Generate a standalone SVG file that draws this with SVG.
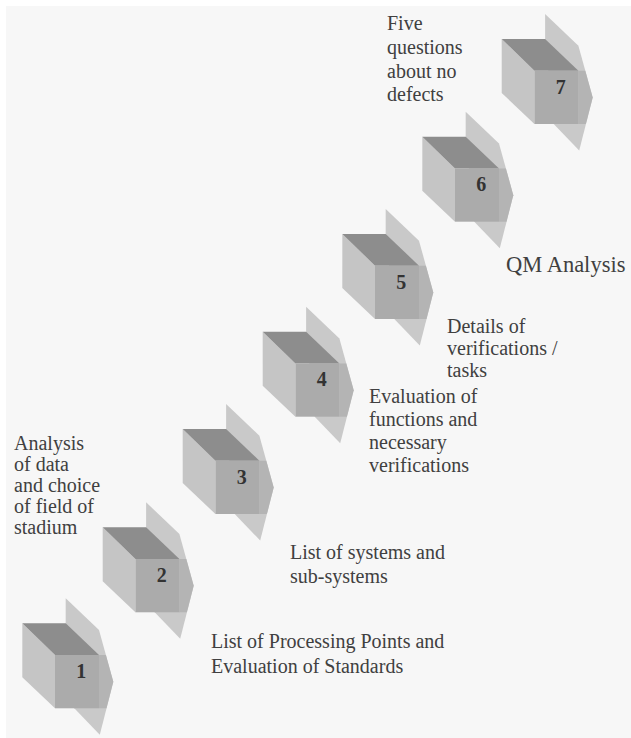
<svg xmlns="http://www.w3.org/2000/svg" xmlns:xlink="http://www.w3.org/1999/xlink" width="631" height="738" viewBox="0 0 631 738">
<style>
.lbl{font-family:"Liberation Serif","Times New Roman",serif;font-size:20px;fill:#404040}
.num{font-family:"Liberation Serif","Times New Roman",serif;font-size:20px;font-weight:bold;fill:#333;text-anchor:middle}
.flap{fill:#c9c9c9}
.mid{fill:#b4b4b4}
.top{fill:#8d8d8d}
.left{fill:#c5c5c5}
.front{fill:#ababab}
</style>
<defs>
<g id="cube">
<polygon class="flap" points="43.4,-25 76.7,6.7 91,58.5 77.5,111.5 52,85 43.4,0"/>
<polygon class="mid" points="76.7,31.7 83.6,31.7 91,58.5 84.2,85 76.7,85"/>
<polygon class="left" points="0,0 32.7,31.7 32.7,85 0,54"/>
<polygon class="top" points="0,0 43.4,0 76.7,31.7 32.7,31.7"/>
<rect class="front" x="32.7" y="31.7" width="44" height="53.3"/>
</g>
</defs>
<rect x="0" y="0" width="631" height="738" fill="#ffffff"/>
<rect x="6" y="6" width="625" height="732" fill="#f7f7f7"/>
<g id="step1" transform="translate(22.3,623.3)"><use xlink:href="#cube" href="#cube"/><text class="num" x="59" y="54.5">1</text></g>
<g id="step2" transform="translate(102.7,527.3)"><use xlink:href="#cube" href="#cube"/><text class="num" x="59" y="54.5">2</text></g>
<g id="step3" transform="translate(182.7,429)"><use xlink:href="#cube" href="#cube"/><text class="num" x="59" y="54.5">3</text></g>
<g id="step4" transform="translate(262.7,331.7)"><use xlink:href="#cube" href="#cube"/><text class="num" x="59" y="54.5">4</text></g>
<g id="step5" transform="translate(342.3,234)"><use xlink:href="#cube" href="#cube"/><text class="num" x="59" y="54.5">5</text></g>
<g id="step6" transform="translate(422.3,136.7)"><use xlink:href="#cube" href="#cube"/><text class="num" x="59" y="54.5">6</text></g>
<g id="step7" transform="translate(501.7,39)"><use xlink:href="#cube" href="#cube"/><text class="num" x="59" y="54.5">7</text></g>
<g id="labels">
<text class="lbl" x="211" y="648">List of Processing Points and</text>
<text class="lbl" x="211" y="673">Evaluation of Standards</text>
<text class="lbl" x="290" y="559">List of systems and</text>
<text class="lbl" x="290" y="583">sub-systems</text>
<text class="lbl" x="369" y="403">Evaluation of</text>
<text class="lbl" x="369" y="426">functions and</text>
<text class="lbl" x="369" y="449">necessary</text>
<text class="lbl" x="369" y="472">verifications</text>
<text class="lbl" x="447" y="333">Details of</text>
<text class="lbl" x="447" y="355">verifications /</text>
<text class="lbl" x="447" y="377">tasks</text>
<text class="lbl" x="506" y="272" style="font-size:22.5px">QM Analysis</text>
<text class="lbl" x="387" y="30">Five</text>
<text class="lbl" x="387" y="54">questions</text>
<text class="lbl" x="387" y="78">about no</text>
<text class="lbl" x="387" y="101">defects</text>
<text class="lbl" x="14" y="450">Analysis</text>
<text class="lbl" x="14" y="471">of data</text>
<text class="lbl" x="14" y="492">and choice</text>
<text class="lbl" x="14" y="513">of field of</text>
<text class="lbl" x="14" y="534">stadium</text>
</g>
</svg>
